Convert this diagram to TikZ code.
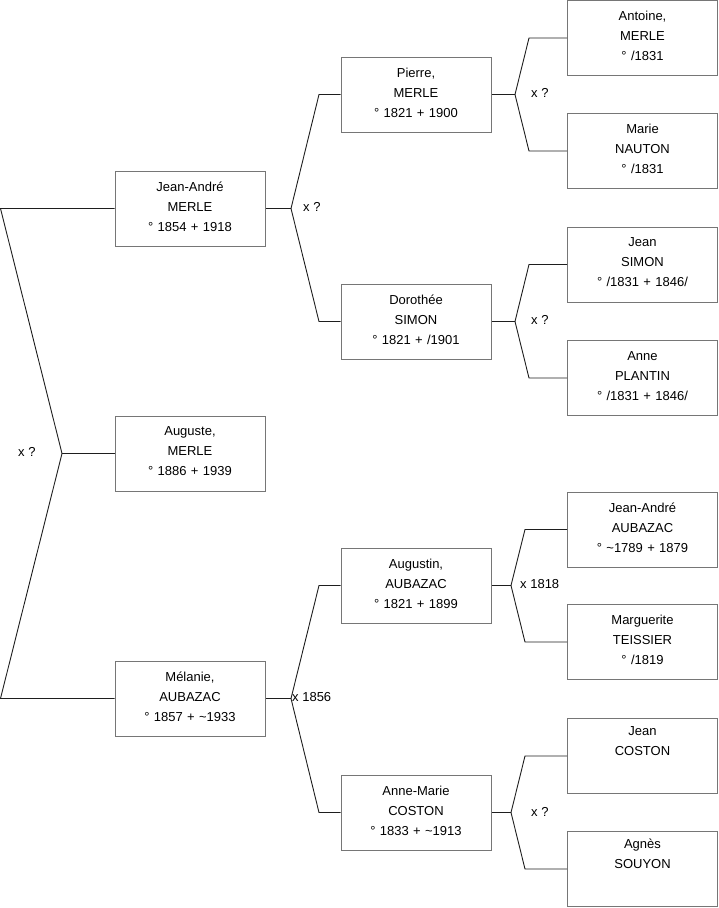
\documentclass[tikz,border=0pt]{standalone}
\usepackage{fontspec}
\setmainfont{Liberation Sans}
\usepackage{xcolor}
\usepackage{tikz}
\usetikzlibrary{positioning, calc}
\definecolor{ink}{HTML}{1E1E1E}
\definecolor{boxline}{HTML}{767676}

\begin{document}
\begin{tikzpicture}[x=1pt,y=-1pt,
  person/.style={draw=boxline, line width=1pt, fill=white, minimum width=150pt, minimum height=75pt,
    text width=148pt, align=center, inner sep=0pt, font=\fontsize{13}{20}\selectfont,
    execute at end node={\endgraf\vspace*{4pt}}},
  link/.style={draw=ink, line width=0.9pt},
  union/.style={anchor=west, inner sep=0pt, font=\fontsize{13}{20}\selectfont}]
\useasboundingbox (0,0) rectangle (719,908);
% first generation
\node[person] (jeanandre) at (190,208.5) {Jean-André\\MERLE\\° 1854 + 1918};
\node[person] (auguste)   at (190,453.5) {Auguste,\\MERLE\\° 1886 + 1939};
\node[person] (melanie)   at (190,698.5) {Mélanie,\\AUBAZAC\\° 1857 + \textasciitilde1933};
% parents
\node[person] (pierre)    at (416,94.5)  {Pierre,\\MERLE\\° 1821 + 1900};
\node[person] (dorothee)  at (416,321.5) {Dorothée\\SIMON\\° 1821 + /1901};
\node[person] (augustin)  at (416,585.5) {Augustin,\\AUBAZAC\\° 1821 + 1899};
\node[person] (annemarie) at (416,812.5) {Anne-Marie\\COSTON\\° 1833 + \textasciitilde1913};
% grandparents
\node[person] (antoine)    at (642.5,38)    {Antoine,\\MERLE\\° /1831};
\node[person] (marie)      at (642.5,151)   {Marie\\NAUTON\\° /1831};
\node[person] (jeansimon)  at (642.5,264.5) {Jean\\SIMON\\° /1831 + 1846/};
\node[person] (anne)       at (642.5,378)   {Anne\\PLANTIN\\° /1831 + 1846/};
\node[person] (jaaubazac)  at (642.5,529.5) {Jean-André\\AUBAZAC\\° \textasciitilde1789 + 1879};
\node[person] (marguerite) at (642.5,642)   {Marguerite\\TEISSIER\\° /1819};
\node[person] (jeancoston) at (642.5,756)   {Jean\\COSTON\\\strut};
\node[person] (agnes)      at (642.5,869)   {Agnès\\SOUYON\\\strut};
% fork points
\coordinate (f0t) at (0.5,208.5);
\coordinate (f0)  at (62,453.5);
\coordinate (f0b) at (0.5,698.5);
\coordinate (f1)  at (291,208.5);
\coordinate (f1t) at (319,94.5);
\coordinate (f1b) at (319,321.5);
\coordinate (f2)  at (291,698.5);
\coordinate (f2t) at (319,585.5);
\coordinate (f2b) at (319,812.5);
\coordinate (f3)  at (515,94.5);
\coordinate (f3t) at (529,38);
\coordinate (f3b) at (529,151);
\coordinate (f4)  at (515,321.5);
\coordinate (f4t) at (529,264.5);
\coordinate (f4b) at (529,378);
\coordinate (f5)  at (511,585.5);
\coordinate (f5t) at (525,529.5);
\coordinate (f5b) at (525,642);
\coordinate (f6)  at (511,812.5);
\coordinate (f6t) at (525,756);
\coordinate (f6b) at (525,869);
% connectors
\draw[link] (jeanandre.west) -- (f0t) -- (f0) -- (f0b) -- (melanie.west);
\draw[link] (f0) -- (auguste.west);
\draw[link] (pierre.west) -- (f1t) -- (f1) -- (f1b) -- (dorothee.west);
\draw[link] (f1) -- (jeanandre.east);
\draw[link] (augustin.west) -- (f2t) -- (f2) -- (f2b) -- (annemarie.west);
\draw[link] (f2) -- (melanie.east);
\draw[link] (antoine.west) -- (f3t) -- (f3) -- (f3b) -- (marie.west);
\draw[link] (f3) -- (pierre.east);
\draw[link] (jeansimon.west) -- (f4t) -- (f4) -- (f4b) -- (anne.west);
\draw[link] (f4) -- (dorothee.east);
\draw[link] (jaaubazac.west) -- (f5t) -- (f5) -- (f5b) -- (marguerite.west);
\draw[link] (f5) -- (augustin.east);
\draw[link] (jeancoston.west) -- (f6t) -- (f6) -- (f6b) -- (agnes.west);
\draw[link] (f6) -- (annemarie.east);
% marriages
\node[union] (m0) at (18,452)   {x ?};
\node[union] (m1) at (303,207)  {x ?};
\node[union] (m2) at (292,697.5) {x 1856};
\node[union] (m3) at (531,93)   {x ?};
\node[union] (m4) at (531,320)  {x ?};
\node[union] (m5) at (520,584.5) {x 1818};
\node[union] (m6) at (531,811.5) {x ?};
\end{tikzpicture}
\end{document}
